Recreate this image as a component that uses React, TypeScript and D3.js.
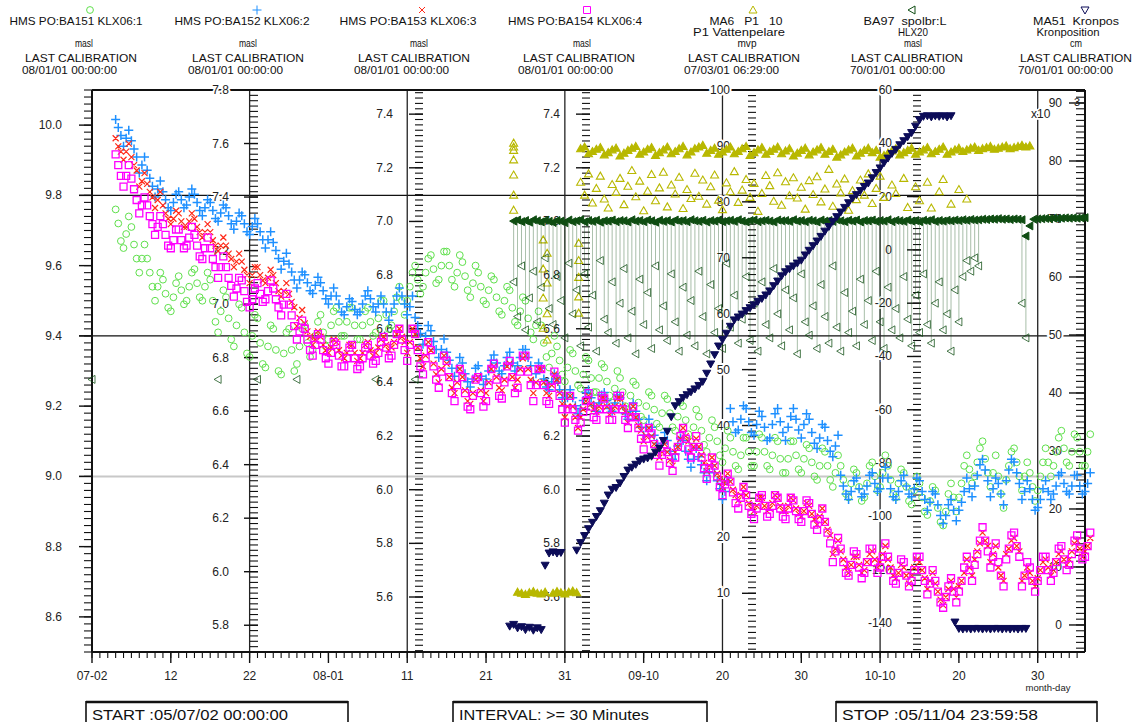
import React from "react";
import * as d3 from "d3";

const W = 1139;
const H = 722;
const HOUR = 3600000;

// ---------- time axis ----------
const timeDomain = ["2005-07-02T00:00:00Z", "2005-11-05T00:00:00Z"];
const xTickDates = ["2005-07-02", "2005-07-12", "2005-07-22", "2005-08-01", "2005-08-11", "2005-08-21", "2005-08-31", "2005-09-10", "2005-09-20", "2005-09-30", "2005-10-10", "2005-10-20", "2005-10-30"];
const xTickLabels = ["07-02", "12", "22", "08-01", "11", "21", "31", "09-10", "20", "30", "10-10", "20", "30"];
const xGridDates = ["2005-07-22", "2005-08-11", "2005-08-31", "2005-09-20", "2005-10-10", "2005-10-30"];

// ---------- legend texts ----------
const seriesNames = ["HMS PO:BA151 KLX06:1", "HMS PO:BA152 KLX06:2", "HMS PO:BA153 KLX06:3", "HMS PO:BA154 KLX06:4", "MA6   P1   10", "BA97  spolbr:L", "MA51  Kronpos"];
const seriesSub = ["", "", "", "", "P1 Vattenpelare", "HLX20", "Kronposition"];
const seriesUnits = ["masl", "masl", "masl", "masl", "mvp", "masl", "cm"];
const calibrationDates = ["08/01/01 00:00:00", "08/01/01 00:00:00", "08/01/01 00:00:00", "08/01/01 00:00:00", "07/03/01 06:29:00", "70/01/01 00:00:00", "70/01/01 00:00:00"];
const seriesColors = ["#5fe04c", "#1e90ff", "#ff2a1a", "#ff00ff", "#b8b800", "#0f4d12", "#0c0c58"];
const seriesMarkers = ["circle", "plus", "cross", "square", "triUp", "triLeft", "triDown"];

// ---------- y axes ----------
const axisDomains = [[8.5, 10.1], [5.7, 7.8], [5.395, 7.49], [5.395, 7.49], [-0.5, 100], [-150.9, 60], [-4.66, 92.24]];
const axisMajorTicks = [
  [8.6, 8.8, 9.0, 9.2, 9.4, 9.6, 9.8, 10.0],
  [5.8, 6.0, 6.2, 6.4, 6.6, 6.8, 7.0, 7.2, 7.4, 7.6, 7.8],
  [5.6, 5.8, 6.0, 6.2, 6.4, 6.6, 6.8, 7.0, 7.2, 7.4],
  [5.6, 5.8, 6.0, 6.2, 6.4, 6.6, 6.8, 7.0, 7.2, 7.4],
  [10, 20, 30, 40, 50, 60, 70, 80, 90, 100],
  [-140, -120, -100, -80, -60, -40, -20, 0, 20, 40, 60],
  [0, 10, 20, 30, 40, 50, 60, 70, 80, 90],
];
const axisMinorSteps = [0.02, 0.02, 0.02, 0.02, 1, 2, 1];
const axisDecimals = [1, 1, 1, 1, 0, 0, 0];
const gridBlackValues = [9.8, 9.4];
const gridGreyValues = [9.0];

// ---------- HMS groundwater levels, 8-hour readings from 2005-07-05 ----------
const hmsStart = "2005-07-05T00:00:00Z";
const ba151 = [
  9.76, 9.72, 9.67, 9.65, 9.69, 9.74, 9.71, 9.66, 9.62, 9.58, 9.62, 9.66, 9.62, 9.58, 9.54, 9.50, 9.54, 9.58, 9.56, 9.52, 9.48, 9.47, 9.51, 9.55, 9.57, 9.53, 9.49, 9.50, 9.54, 9.58,
  9.59, 9.55, 9.51, 9.50, 9.54, 9.58, 9.56, 9.50, 9.44, 9.41, 9.47, 9.53, 9.51, 9.45, 9.39, 9.37, 9.43, 9.49, 9.48, 9.41, 9.35, 9.34, 9.40, 9.46, 9.45, 9.38, 9.32, 9.31, 9.37, 9.43,
  9.42, 9.36, 9.30, 9.29, 9.35, 9.41, 9.42, 9.36, 9.30, 9.32, 9.37, 9.42, 9.43, 9.38, 9.34, 9.36, 9.40, 9.44, 9.46, 9.41, 9.37, 9.39, 9.43, 9.47, 9.48, 9.44, 9.40, 9.40, 9.44, 9.48,
  9.48, 9.43, 9.39, 9.39, 9.43, 9.47, 9.48, 9.44, 9.40, 9.41, 9.45, 9.50, 9.50, 9.46, 9.42, 9.43, 9.47, 9.51, 9.54, 9.50, 9.46, 9.50, 9.54, 9.58, 9.60, 9.56, 9.52, 9.54, 9.58, 9.62,
  9.63, 9.59, 9.55, 9.56, 9.60, 9.64, 9.64, 9.60, 9.56, 9.54, 9.58, 9.63, 9.61, 9.57, 9.53, 9.51, 9.55, 9.60, 9.58, 9.54, 9.50, 9.49, 9.53, 9.57, 9.56, 9.51, 9.47, 9.46, 9.50, 9.54,
  9.53, 9.48, 9.44, 9.43, 9.47, 9.51, 9.50, 9.45, 9.41, 9.39, 9.43, 9.47, 9.43, 9.38, 9.34, 9.31, 9.35, 9.40, 9.37, 9.33, 9.29, 9.27, 9.31, 9.36, 9.35, 9.30, 9.26, 9.25, 9.29, 9.34,
  9.33, 9.28, 9.24, 9.24, 9.28, 9.32, 9.31, 9.27, 9.23, 9.21, 9.25, 9.30, 9.28, 9.24, 9.20, 9.19, 9.23, 9.27, 9.26, 9.21, 9.17, 9.16, 9.20, 9.24, 9.23, 9.19, 9.15, 9.14, 9.18, 9.23,
  9.22, 9.18, 9.14, 9.13, 9.17, 9.21, 9.20, 9.16, 9.12, 9.10, 9.14, 9.19, 9.17, 9.13, 9.09, 9.07, 9.11, 9.16, 9.14, 9.10, 9.06, 9.04, 9.08, 9.13, 9.11, 9.07, 9.03, 9.02, 9.06, 9.11,
  9.11, 9.07, 9.03, 9.03, 9.07, 9.12, 9.11, 9.07, 9.03, 9.02, 9.06, 9.11, 9.10, 9.05, 9.01, 9.01, 9.05, 9.10, 9.10, 9.06, 9.02, 9.01, 9.05, 9.09, 9.08, 9.04, 9.00, 8.99, 9.03, 9.08,
  9.07, 9.03, 8.99, 8.97, 9.01, 9.06, 9.03, 8.99, 8.95, 8.94, 8.98, 9.02, 9.01, 8.97, 8.93, 8.94, 8.98, 9.03, 9.04, 9.00, 8.96, 8.97, 9.01, 9.06, 9.03, 8.99, 8.95, 8.94, 8.98, 9.02,
  9.01, 8.97, 8.93, 8.92, 8.96, 9.00, 8.98, 8.94, 8.90, 8.89, 8.93, 8.97, 8.96, 8.91, 8.87, 8.86, 8.90, 8.95, 8.98, 8.94, 8.90, 8.94, 8.98, 9.03, 9.06, 9.02, 8.98, 9.00, 9.04, 9.08,
  9.10, 9.05, 9.01, 8.97, 9.01, 9.06, 9.00, 8.95, 8.91, 8.99, 9.03, 9.07, 9.08, 9.04, 9.00, 8.96, 9.00, 9.04, 9.01, 8.97, 8.93, 8.96, 9.00, 9.04, 9.08, 9.04, 9.00, 9.03, 9.07, 9.11,
  9.13, 9.08, 9.04, 9.03, 9.07, 9.12, 9.11, 9.07, 9.03, 9.03, 9.07, 9.12,
];
const ba152 = [
  7.69, 7.66, 7.63, 7.59, 7.62, 7.65, 7.61, 7.58, 7.55, 7.49, 7.52, 7.55, 7.50, 7.47, 7.44, 7.40, 7.43, 7.46, 7.42, 7.39, 7.36, 7.35, 7.38, 7.41, 7.42, 7.39, 7.36, 7.37, 7.40, 7.43,
  7.41, 7.38, 7.35, 7.33, 7.36, 7.39, 7.38, 7.35, 7.32, 7.31, 7.34, 7.37, 7.36, 7.33, 7.30, 7.28, 7.31, 7.34, 7.33, 7.30, 7.27, 7.26, 7.29, 7.32, 7.30, 7.27, 7.24, 7.21, 7.24, 7.27,
  7.23, 7.20, 7.17, 7.13, 7.16, 7.19, 7.15, 7.12, 7.09, 7.06, 7.09, 7.12, 7.11, 7.08, 7.05, 7.04, 7.07, 7.10, 7.08, 7.05, 7.02, 7.00, 7.03, 7.06, 7.03, 7.00, 6.97, 6.96, 6.99, 7.02,
  7.01, 6.98, 6.96, 6.97, 7.00, 7.03, 7.05, 7.02, 6.99, 6.97, 7.00, 7.03, 7.00, 6.97, 6.94, 6.97, 7.00, 7.03, 7.06, 7.03, 7.00, 6.96, 6.99, 7.03, 6.95, 6.92, 6.89, 6.85, 6.88, 6.92,
  6.90, 6.86, 6.83, 6.80, 6.83, 6.87, 6.82, 6.79, 6.76, 6.73, 6.76, 6.80, 6.78, 6.74, 6.71, 6.69, 6.72, 6.76, 6.77, 6.73, 6.70, 6.72, 6.75, 6.79, 6.81, 6.78, 6.75, 6.74, 6.77, 6.80,
  6.82, 6.78, 6.75, 6.77, 6.80, 6.83, 6.83, 6.80, 6.77, 6.71, 6.74, 6.78, 6.76, 6.72, 6.69, 6.68, 6.71, 6.74, 6.72, 6.68, 6.65, 6.62, 6.65, 6.68, 6.65, 6.62, 6.59, 6.61, 6.64, 6.67,
  6.68, 6.65, 6.62, 6.60, 6.63, 6.66, 6.67, 6.64, 6.61, 6.60, 6.63, 6.66, 6.65, 6.62, 6.59, 6.57, 6.60, 6.63, 6.60, 6.57, 6.54, 6.51, 6.54, 6.57, 6.54, 6.51, 6.48, 6.45, 6.48, 6.52,
  6.49, 6.45, 6.42, 6.44, 6.47, 6.50, 6.49, 6.45, 6.42, 6.39, 6.42, 6.46, 6.43, 6.40, 6.37, 6.34, 6.37, 6.40, 6.37, 6.34, 6.31, 6.27, 6.30, 6.34, 6.61, 6.56, 6.52, 6.53, 6.57, 6.62,
  6.61, 6.56, 6.52, 6.51, 6.55, 6.60, 6.58, 6.54, 6.49, 6.50, 6.55, 6.59, 6.61, 6.56, 6.52, 6.49, 6.54, 6.58, 6.61, 6.57, 6.53, 6.50, 6.55, 6.59, 6.57, 6.52, 6.48, 6.46, 6.50, 6.55,
  6.54, 6.49, 6.45, 6.43, 6.47, 6.51, 6.36, 6.32, 6.29, 6.27, 6.30, 6.34, 6.35, 6.31, 6.28, 6.29, 6.32, 6.36, 6.37, 6.33, 6.30, 6.31, 6.35, 6.39, 6.35, 6.31, 6.28, 6.27, 6.30, 6.34,
  6.36, 6.32, 6.29, 6.28, 6.31, 6.35, 6.34, 6.30, 6.27, 6.23, 6.26, 6.30, 6.29, 6.25, 6.21, 6.18, 6.21, 6.25, 6.27, 6.23, 6.19, 6.23, 6.26, 6.30, 6.35, 6.31, 6.28, 6.32, 6.36, 6.40,
  6.42, 6.38, 6.34, 6.28, 6.31, 6.35, 6.33, 6.29, 6.25, 6.34, 6.38, 6.42, 6.41, 6.37, 6.33, 6.27, 6.30, 6.34, 6.31, 6.27, 6.23, 6.24, 6.27, 6.31, 6.34, 6.30, 6.27, 6.29, 6.32, 6.36,
  6.37, 6.33, 6.30, 6.29, 6.32, 6.36, 6.36, 6.32, 6.29, 6.30, 6.33, 6.37,
];
const ba153 = [
  7.31, 7.28, 7.26, 7.23, 7.26, 7.29, 7.24, 7.21, 7.19, 7.13, 7.15, 7.18, 7.14, 7.11, 7.09, 7.05, 7.08, 7.11, 7.06, 7.03, 7.01, 6.99, 7.01, 7.04, 7.03, 7.00, 6.98, 6.98, 7.00, 7.03,
  7.01, 6.98, 6.96, 6.94, 6.96, 6.99, 6.96, 6.93, 6.91, 6.89, 6.91, 6.94, 6.91, 6.88, 6.86, 6.83, 6.85, 6.88, 6.85, 6.82, 6.80, 6.77, 6.80, 6.83, 6.83, 6.80, 6.78, 6.77, 6.79, 6.82,
  6.80, 6.77, 6.74, 6.72, 6.74, 6.77, 6.73, 6.70, 6.68, 6.61, 6.64, 6.67, 6.62, 6.59, 6.57, 6.54, 6.56, 6.59, 6.57, 6.54, 6.52, 6.51, 6.53, 6.56, 6.55, 6.52, 6.50, 6.49, 6.51, 6.54,
  6.54, 6.51, 6.48, 6.49, 6.51, 6.54, 6.55, 6.52, 6.50, 6.51, 6.53, 6.56, 6.57, 6.54, 6.52, 6.53, 6.55, 6.58, 6.60, 6.57, 6.55, 6.51, 6.55, 6.60, 6.58, 6.53, 6.49, 6.46, 6.50, 6.55,
  6.52, 6.47, 6.43, 6.40, 6.45, 6.50, 6.47, 6.42, 6.38, 6.36, 6.40, 6.45, 6.42, 6.37, 6.33, 6.32, 6.36, 6.41, 6.42, 6.37, 6.33, 6.36, 6.40, 6.45, 6.46, 6.42, 6.38, 6.37, 6.41, 6.46,
  6.47, 6.42, 6.38, 6.41, 6.45, 6.49, 6.50, 6.45, 6.41, 6.36, 6.40, 6.45, 6.45, 6.40, 6.36, 6.35, 6.39, 6.43, 6.41, 6.36, 6.32, 6.27, 6.31, 6.35, 6.31, 6.27, 6.23, 6.27, 6.30, 6.33,
  6.35, 6.32, 6.30, 6.29, 6.31, 6.34, 6.34, 6.31, 6.28, 6.29, 6.31, 6.34, 6.34, 6.31, 6.29, 6.25, 6.28, 6.31, 6.27, 6.24, 6.22, 6.18, 6.20, 6.23, 6.20, 6.17, 6.15, 6.12, 6.14, 6.17,
  6.14, 6.11, 6.09, 6.14, 6.16, 6.19, 6.23, 6.20, 6.18, 6.14, 6.16, 6.19, 6.16, 6.13, 6.10, 6.07, 6.09, 6.12, 6.09, 6.06, 6.04, 6.01, 6.03, 6.06, 6.03, 6.00, 5.98, 5.96, 5.98, 6.01,
  5.98, 5.95, 5.93, 5.92, 5.94, 5.97, 5.97, 5.94, 5.92, 5.93, 5.95, 5.98, 5.97, 5.94, 5.92, 5.92, 5.94, 5.97, 5.96, 5.93, 5.91, 5.90, 5.92, 5.95, 5.94, 5.91, 5.89, 5.87, 5.90, 5.93,
  5.88, 5.85, 5.83, 5.76, 5.78, 5.81, 5.77, 5.74, 5.71, 5.69, 5.72, 5.75, 5.75, 5.72, 5.69, 5.70, 5.73, 5.76, 5.77, 5.74, 5.71, 5.73, 5.76, 5.79, 5.74, 5.71, 5.68, 5.67, 5.69, 5.72,
  5.71, 5.68, 5.65, 5.68, 5.71, 5.74, 5.73, 5.70, 5.67, 5.63, 5.66, 5.69, 5.65, 5.62, 5.59, 5.57, 5.60, 5.63, 5.66, 5.63, 5.60, 5.64, 5.66, 5.69, 5.74, 5.71, 5.68, 5.74, 5.77, 5.80,
  5.84, 5.81, 5.79, 5.73, 5.76, 5.79, 5.71, 5.68, 5.66, 5.76, 5.78, 5.81, 5.82, 5.79, 5.77, 5.66, 5.68, 5.71, 5.69, 5.66, 5.64, 5.67, 5.70, 5.73, 5.74, 5.71, 5.68, 5.70, 5.73, 5.76,
  5.77, 5.74, 5.72, 5.74, 5.77, 5.80, 5.81, 5.78, 5.75, 5.77, 5.79, 5.82,
];
const ba154 = [
  7.25, 7.21, 7.17, 7.13, 7.17, 7.21, 7.16, 7.12, 7.08, 7.03, 7.06, 7.09, 7.06, 7.02, 6.99, 6.95, 6.98, 7.02, 6.99, 6.95, 6.91, 6.90, 6.93, 6.97, 6.97, 6.93, 6.90, 6.91, 6.94, 6.98,
  6.95, 6.91, 6.87, 6.86, 6.90, 6.94, 6.90, 6.86, 6.83, 6.79, 6.83, 6.87, 6.83, 6.79, 6.76, 6.72, 6.75, 6.79, 6.78, 6.74, 6.70, 6.68, 6.71, 6.75, 6.77, 6.73, 6.70, 6.71, 6.74, 6.78,
  6.75, 6.71, 6.68, 6.65, 6.69, 6.73, 6.69, 6.65, 6.61, 6.56, 6.59, 6.63, 6.60, 6.56, 6.52, 6.50, 6.54, 6.58, 6.56, 6.52, 6.49, 6.47, 6.51, 6.55, 6.54, 6.50, 6.46, 6.46, 6.49, 6.53,
  6.54, 6.49, 6.45, 6.46, 6.49, 6.53, 6.54, 6.50, 6.47, 6.48, 6.51, 6.55, 6.57, 6.53, 6.49, 6.50, 6.54, 6.58, 6.60, 6.56, 6.52, 6.48, 6.54, 6.60, 6.58, 6.52, 6.46, 6.43, 6.49, 6.55,
  6.52, 6.46, 6.41, 6.38, 6.44, 6.50, 6.48, 6.42, 6.36, 6.33, 6.39, 6.45, 6.42, 6.36, 6.31, 6.30, 6.35, 6.41, 6.42, 6.36, 6.31, 6.33, 6.39, 6.45, 6.47, 6.41, 6.35, 6.34, 6.40, 6.46,
  6.48, 6.42, 6.36, 6.38, 6.44, 6.50, 6.50, 6.44, 6.39, 6.33, 6.39, 6.45, 6.45, 6.39, 6.33, 6.32, 6.38, 6.44, 6.41, 6.35, 6.30, 6.25, 6.30, 6.35, 6.30, 6.26, 6.22, 6.25, 6.29, 6.33,
  6.36, 6.31, 6.27, 6.26, 6.30, 6.35, 6.34, 6.30, 6.26, 6.26, 6.30, 6.35, 6.35, 6.30, 6.26, 6.23, 6.27, 6.31, 6.27, 6.23, 6.19, 6.15, 6.19, 6.23, 6.21, 6.17, 6.13, 6.09, 6.13, 6.17,
  6.14, 6.10, 6.07, 6.12, 6.16, 6.20, 6.23, 6.19, 6.15, 6.12, 6.16, 6.20, 6.16, 6.12, 6.08, 6.04, 6.08, 6.12, 6.09, 6.05, 6.01, 5.98, 6.02, 6.06, 6.03, 5.99, 5.95, 5.93, 5.97, 6.01,
  5.98, 5.94, 5.91, 5.89, 5.93, 5.97, 5.98, 5.94, 5.90, 5.91, 5.94, 5.98, 5.97, 5.93, 5.90, 5.89, 5.93, 5.97, 5.96, 5.92, 5.89, 5.88, 5.92, 5.96, 5.95, 5.91, 5.87, 5.85, 5.89, 5.93,
  5.88, 5.84, 5.80, 5.73, 5.77, 5.82, 5.78, 5.73, 5.69, 5.68, 5.72, 5.77, 5.76, 5.71, 5.67, 5.69, 5.73, 5.78, 5.78, 5.73, 5.69, 5.71, 5.75, 5.80, 5.75, 5.70, 5.66, 5.65, 5.69, 5.74,
  5.73, 5.68, 5.64, 5.66, 5.70, 5.75, 5.75, 5.70, 5.66, 5.61, 5.65, 5.70, 5.66, 5.62, 5.58, 5.56, 5.60, 5.64, 5.67, 5.62, 5.58, 5.62, 5.66, 5.71, 5.75, 5.70, 5.66, 5.72, 5.76, 5.81,
  5.86, 5.81, 5.77, 5.71, 5.75, 5.80, 5.73, 5.68, 5.64, 5.74, 5.78, 5.83, 5.84, 5.79, 5.75, 5.64, 5.68, 5.73, 5.71, 5.66, 5.62, 5.66, 5.70, 5.75, 5.75, 5.70, 5.66, 5.69, 5.73, 5.78,
  5.79, 5.74, 5.70, 5.72, 5.76, 5.81, 5.83, 5.78, 5.74, 5.75, 5.79, 5.84,
];

// ---------- MA6 (mvp), 12-hour readings ----------
const ma6Starts = ["2005-08-25T00:00:00Z", "2005-08-29T12:00:00Z", "2005-09-02T00:00:00Z", "2005-09-02T00:00:00Z"];
const ma6LowA = [10.2, 10.0, 9.8, 10.1, 10.3, 10.0, 9.9, 10.2];
const ma6LowB = [10.0, 10.3, 10.1, 9.9, 10.2, 10.4, 10.1];
const ma6Upper = [
  89.5, 89.8, 88.6, 89.0, 89.4, 89.7, 88.4, 88.8, 89.3, 89.6,
  88.2, 88.7, 89.2, 89.6, 89.9, 88.5, 88.9, 89.4, 89.7, 88.3,
  88.8, 89.3, 89.8, 88.6, 89.0, 89.5, 89.9, 88.4, 88.9, 89.5,
  89.8, 90.1, 88.7, 89.2, 89.6, 88.5, 88.9, 89.4, 89.8, 88.6,
  89.0, 89.5, 89.9, 88.3, 88.8, 89.3, 89.7, 88.5, 89.0, 89.4,
  89.8, 88.6, 89.1, 89.5, 88.2, 88.7, 89.2, 89.6, 88.4, 88.9,
  89.3, 89.7, 88.5, 89.0, 89.4, 88.0, 88.4, 88.9, 89.3, 89.6,
  88.2, 88.7, 89.2, 89.6, 88.8, 89.2, 88.0, 88.3, 88.7, 89.1,
  89.5, 88.4, 88.8, 89.2, 89.6, 88.5, 88.9, 89.3, 89.7, 88.6,
  89.0, 89.4, 89.8, 88.5, 88.9, 89.3, 89.6, 89.0, 89.3, 89.6,
  89.8, 89.2, 89.5, 89.7, 89.9, 89.4, 89.6, 89.8, 90.0, 89.5,
  89.7, 89.9, 90.1, 89.8, 90.0,
];
const ma6Scatter = [
  83.5, 81.2, 85.0, 79.8, 82.4, 84.6, 80.5, 78.9, 83.1, 81.7,
  84.2, 79.5, 82.8, 85.6, 80.9, 83.7, 78.4, 81.9, 84.9, 80.2,
  82.5, 85.3, 79.1, 83.0, 81.4, 84.4, 78.8, 82.2, 80.6, 85.1,
  81.0, 83.9, 79.6, 82.7, 84.8, 80.3, 78.6, 83.4, 81.8, 85.4,
  79.9, 82.1, 84.0, 80.8, 83.3, 78.3, 81.5, 84.7, 82.9, 80.1,
  85.2, 79.4, 83.6, 81.1, 84.3, 80.7, 82.6, 78.7, 83.8, 81.3,
  84.5, 80.0, 82.3, 85.8, 79.2, 83.2, 81.6, 84.1, 78.5, 82.0,
  80.4, 83.9, 81.2, 85.0, 79.7, 82.4, 84.6, 80.8, null, 83.0,
  81.5, null, 84.2, 79.0, null, 82.7, 80.2, null, 83.5, 78.9,
  null, 81.8, 84.0, null, 79.6, null, 82.2, null, 80.5, null,
];
const ma6TransTimes = [
  "2005-08-24T12:00:00Z", "2005-08-24T12:00:00Z", "2005-08-24T12:00:00Z", "2005-08-24T12:00:00Z", "2005-08-24T12:00:00Z", "2005-08-24T12:00:00Z", "2005-08-24T12:00:00Z",
  "2005-08-28T06:00:00Z", "2005-08-28T18:00:00Z", "2005-08-28T06:00:00Z", "2005-08-28T18:00:00Z", "2005-08-28T06:00:00Z", "2005-08-28T18:00:00Z", "2005-08-28T06:00:00Z", "2005-08-28T18:00:00Z",
  "2005-09-01T18:00:00Z", "2005-09-01T18:00:00Z", "2005-09-01T18:00:00Z", "2005-09-01T18:00:00Z", "2005-09-01T18:00:00Z",
];
const ma6TransValues = [90.5, 89.8, 89.2, 87.5, 84.8, 81.2, 78.5, 73.2, 70.8, 68.0, 65.5, 62.8, 60.0, 57.4, 55.3, 72.6, 69.5, 66.5, 63.0, 60.1];

// ---------- BA97 (masl), 12-hour readings from 2005-08-24 12:00 ----------
const ba97Start = "2005-08-24T12:00:00Z";
const ba97Level = [
  10.8, 11.2, 10.6, 11.0, 10.4, 11.3, 10.9, 10.5, 11.1, 10.7,
  10.3, 11.0, 10.8, 10.2, 11.2, 10.6, 10.9, 11.3, 10.5, 11.0,
  10.7, 11.1, 10.4, 10.9, 10.8, 11.2, 10.6, 11.0, 10.9, 10.5,
  11.3, 10.8, 11.0, 10.6, 11.2, 10.9, 10.4, 11.1, 10.7, 11.0,
  10.5, 11.2, 10.8, 11.0, 10.6, 11.3, 10.9, 10.7, 11.1, 10.5,
  11.0, 10.8, 11.2, 10.6, 10.9, 11.1, 10.7, 11.3, 10.8, 10.5,
  11.0, 11.2, 10.6, 10.9, 11.1, 10.8, 10.5, 11.2, 10.9, 11.0,
  10.7, 11.3, 10.8, 11.0, 10.6, 11.1, 10.9, 10.5, 11.2, 10.8,
  11.0, 10.7, 11.3, 10.9, 10.6, 11.1, 10.8, 11.2, 10.5, 11.0,
  10.9, 11.2, 10.7, 11.0, 10.8, 11.3, 10.6, 11.1, 10.9, 10.7,
  11.2, 10.8, 11.0, 10.6, 11.1, 10.9, 11.3, 10.7, 11.0, 10.8,
  11.1, 10.9, 11.2, 11.0, 11.3, 11.1, 11.4, 11.2, 11.3, 11.5,
  11.4, 11.6, 11.5, 11.7, 11.5, 11.6, 11.4, 11.6, 11.5, 11.3,
  5.2, 9.0, 11.5, 11.6, 11.7, 11.8, 11.7, 11.9, 11.8, 11.9,
  12.0, 11.9, 12.0, 11.9, 12.0, 12.1,
];
const ba97Min = [
  -12, -25, -6, -30, -18, -8, -27, -14, -3, -22,
  -28, -10, -19, -33, -5, -24, -15, -36, -9, -29,
  -17, -38, -4, -26, -31, -12, -35, -20, -7, -33,
  -23, -39, -11, -28, -16, -37, -6, -30, -21, -34,
  -9, -27, -38, -14, -32, -19, -36, -8, -25, -39,
  -13, -31, -22, -37, -5, -29, -17, -35, -26, -10,
  -34, -20, -38, -12, -28, -33, -7, -24, -36, -15,
  -30, -18, -39, -9, -27, -32, -21, -37, -13, -25,
  -35, -6, -29, -38, -16, -31, -23, -36, -11, -28,
  -19, -34, -8, -27, -37, -14, -30, -22, -33, -10,
  -26, -36, -17, -31, -9, -28, -35, -20, -12, -30,
  -24, -38, -15, -27, -10, -4, -8, -3, -6, null,
];
const ba97LateTimes = ["2005-10-28T00:00:00Z", "2005-10-28T12:00:00Z"];
const ba97LateMin = [-20, -33];
const ba97EarlyTimes = ["2005-07-02T00:00:00Z", "2005-07-18T00:00:00Z", "2005-07-23T00:00:00Z", "2005-07-28T00:00:00Z", "2005-08-07T00:00:00Z", "2005-08-12T00:00:00Z"];
const ba97Early = [-48.6, -48.6, -48.6, -48.6, -48.6, -48.6];

// ---------- MA51 Kronposition (x10^3 cm), 12-hour readings ----------
const ma51Starts = ["2005-08-24T00:00:00Z", "2005-08-28T12:00:00Z", "2005-09-01T12:00:00Z", "2005-10-19T12:00:00Z"];
const ma51A = [-0.2, 0.1, -0.5, -0.3, -0.8, -0.4, -0.9, -0.5, -0.8];
const ma51B = [10.3, 12.4, 12.6, 12.4, 12.5];
const ma51C = [
  12.9, 14.2, 15.4, 16.6, 17.7, 18.7, 19.7, 21.0, 22.4, 23.4,
  23.7, 24.5, 25.6, 26.7, 27.2, 27.7, 28.3, 28.6, 28.8, 29.1,
  29.8, 30.5, 31.8, 33.4, 35.9, 37.8, 38.5, 39.2, 39.7, 40.2,
  40.7, 41.3, 42.0, 43.4, 45.0, 46.6, 48.1, 49.2, 50.3, 51.5,
  52.6, 53.1, 53.6, 54.2, 54.7, 55.2, 55.8, 56.3, 56.9, 57.6,
  58.5, 59.3, 60.2, 60.9, 61.4, 61.9, 62.4, 62.9, 63.8, 64.6,
  65.4, 66.2, 67.0, 67.9, 68.7, 69.6, 70.4, 71.2, 72.0, 72.8,
  73.6, 74.2, 74.9, 75.6, 76.2, 77.1, 78.0, 78.8, 79.7, 80.5,
  81.3, 82.0, 82.8, 83.5, 84.2, 84.9, 86.0, 87.1, 87.7, 87.8,
  87.6, 87.8, 87.7, 87.8, 87.6, 87.8,
];
const ma51D = [0.5, -0.6, -0.7, -0.6, -0.7, -0.6, -0.6, -0.7, -0.6, -0.7, -0.6, -0.6, -0.7, -0.6, -0.7, -0.6, -0.7, -0.6, -0.6];

// ---------- footer ----------
const footerTexts = ["START :05/07/02 00:00:00", "INTERVAL: >= 30 Minutes", "STOP :05/11/04 23:59:58"];

// ---------- helpers ----------
type Pt = [number, number];
const markerPath: Record<string, (x: number, y: number) => string> = {
  circle: (x, y) => `M${x - 3.4},${y}a3.4,3.4 0 1,0 6.8,0a3.4,3.4 0 1,0 -6.8,0`,
  plus: (x, y) => `M${x - 4.5},${y}h9M${x},${y - 4.5}v9`,
  cross: (x, y) => `M${x - 3},${y - 3}l6,6M${x - 3},${y + 3}l6,-6`,
  square: (x, y) => `M${x - 3.5},${y - 3.5}h7v7h-7z`,
  triUp: (x, y) => `M${x},${y - 4}l4,7h-8z`,
  triLeft: (x, y) => `M${x - 4},${y}l7,-4v8z`,
  triDown: (x, y) => `M${x - 4},${y - 3}h8l-4,7z`,
};

export default function App() {
  const x = d3.scaleUtc().domain(timeDomain.map((s) => new Date(s))).range([92, 1085]);
  const ys = axisDomains.map((d) => d3.scaleLinear().domain(d).range([652, 90]));
  const top = 90, bottom = 652, left = 92, right = 1085;

  const regular = (start: string, stepH: number, values: (number | null)[], y: d3.ScaleLinear<number, number>): Pt[] => {
    const t0 = Date.parse(start);
    const out: Pt[] = [];
    values.forEach((v, i) => {
      if (v == null) return;
      out.push([x(new Date(t0 + i * stepH * HOUR)), y(v)]);
    });
    return out;
  };
  const listed = (times: string[], values: number[], y: d3.ScaleLinear<number, number>): Pt[] =>
    times.map((t, i) => [x(new Date(t)), y(values[i])] as Pt);
  const pathOf = (pts: Pt[], kind: string) => pts.map(([px, py]) => markerPath[kind](px, py)).join("");

  const s1 = regular(hmsStart, 8, ba151, ys[0]);
  const s2 = regular(hmsStart, 8, ba152, ys[1]);
  const s3 = regular(hmsStart, 8, ba153, ys[2]);
  const s4 = regular(hmsStart, 8, ba154, ys[3]);
  const s5Solid = [
    ...regular(ma6Starts[0], 12, ma6LowA, ys[4]),
    ...regular(ma6Starts[1], 12, ma6LowB, ys[4]),
    ...regular(ma6Starts[2], 12, ma6Upper, ys[4]),
  ];
  const s5Open = [
    ...regular(ma6Starts[3], 12, ma6Scatter, ys[4]),
    ...listed(ma6TransTimes, ma6TransValues, ys[4]),
  ];
  const s6Level = regular(ba97Start, 12, ba97Level, ys[5]);
  const s6Min = regular(ba97Start, 12, ba97Min, ys[5]);
  const t97 = Date.parse(ba97Start);
  const spikes: [number, number, number][] = [];
  ba97Min.forEach((v, i) => {
    if (v == null) return;
    const lv = ba97Level[i] ?? 11;
    spikes.push([x(new Date(t97 + i * 12 * HOUR)), ys[5](lv), ys[5](v)]);
  });
  ba97LateTimes.forEach((t, i) => {
    const idx = Math.round((Date.parse(t) - t97) / (12 * HOUR));
    const lv = ba97Level[idx] ?? 11;
    spikes.push([x(new Date(t)), ys[5](lv), ys[5](ba97LateMin[i])]);
  });
  const s6Late = listed(ba97LateTimes, ba97LateMin, ys[5]);
  const s6Early = listed(ba97EarlyTimes, ba97Early, ys[5]);
  const s7 = [
    ...regular(ma51Starts[0], 12, ma51A, ys[6]),
    ...regular(ma51Starts[1], 12, ma51B, ys[6]),
    ...regular(ma51Starts[2], 12, ma51C, ys[6]),
    ...regular(ma51Starts[3], 12, ma51D, ys[6]),
  ];

  const ladders = [
    { minor: [84, 92], major: [79, 92], labelX: 62 },
    { minor: [250, 258], major: [244, 258], labelX: 229 },
    { minor: [415, 423], major: [409, 423], labelX: 393 },
    { minor: [582, 590], major: [576, 590], labelX: 560 },
    { minor: [748, 756], major: [742, 756], labelX: 730 },
    { minor: [913, 921], major: [907, 921], labelX: 892 },
    { minor: [1076, 1085], major: [1069, 1085], labelX: 1062 },
  ];

  const font = "'Liberation Sans', Arial, Helvetica, sans-serif";

  const axisEls: React.ReactNode[] = [];
  const labelEls: React.ReactNode[] = [];
  ladders.forEach((ld, ai) => {
    const y = ys[ai];
    const [lo, hi] = axisDomains[ai];
    const step = axisMinorSteps[ai];
    const minors = d3.range(Math.ceil(lo / step - 1e-6), Math.floor(hi / step + 1e-6) + 1).map((k) => k * step);
    minors.forEach((v, i) => {
      const py = y(v);
      if (py < top || py > bottom) return;
      axisEls.push(<line key={`mi${ai}-${i}`} x1={ld.minor[0]} x2={ld.minor[1]} y1={py} y2={py} stroke="#111" strokeWidth={1.1} />);
    });
    axisMajorTicks[ai].forEach((v, i) => {
      const py = y(v);
      axisEls.push(<line key={`ma${ai}-${i}`} x1={ld.major[0]} x2={ld.major[1]} y1={py} y2={py} stroke="#111" strokeWidth={1.4} />);
      labelEls.push(
        <text key={`lb${ai}-${i}`} x={ld.labelX} y={py} textAnchor="end" dominantBaseline="central" fontSize={12}
          fill="#222" stroke="#fff" strokeWidth={4} paintOrder="stroke" fontFamily={font}>
          {v.toFixed(axisDecimals[ai])}
        </text>
      );
    });
  });

  const dayTicks = d3.utcDay.range(new Date(timeDomain[0]), new Date(timeDomain[1]));

  const titleX = [76, 242, 408, 575, 746, 905, 1076];
  const titleW = [133, 135, 137, 134, 73, 83, 86];
  const subX = [0, 0, 0, 0, 739, 913, 1068];
  const subW = [0, 0, 0, 0, 92, 30, 63];
  const unitX = [84, 248, 419, 582, 747, 913, 1076];
  const unitW = [18, 18, 18, 18, 19, 18, 12];
  const lastX = [25, 192, 358, 523, 688, 851, 1020];
  const dateX = [22, 188, 354, 518, 684, 850, 1018];
  const markX = [90, 257, 422, 587, 753, 912, 1085];

  const footerBoxes = [[86, 348], [453, 707], [836, 1097]];

  return (
    <div style={{ position: "absolute", left: 0, top: 0, width: W, height: H, background: "#fff" }}>
      <svg width={W} height={H} viewBox={`0 0 ${W} ${H}`} style={{ display: "block" }}>
        <rect x={0} y={0} width={W} height={H} fill="#fff" />

        {seriesNames.map((name, i) => (
          <g key={`hd${i}`} fontFamily={font} fill="#111">
            <path d={markerPath[seriesMarkers[i]](markX[i], 10)} fill="none" stroke={seriesColors[i]} strokeWidth={1} />
            <text x={titleX[i]} y={25} textAnchor="middle" fontSize={11.5} textLength={titleW[i]} lengthAdjust="spacingAndGlyphs" style={{ whiteSpace: "pre" }}>{name}</text>
            {seriesSub[i] && (
              <text x={subX[i]} y={35.5} textAnchor="middle" fontSize={11} textLength={subW[i]} lengthAdjust="spacingAndGlyphs">{seriesSub[i]}</text>
            )}
            <text x={unitX[i]} y={46.5} textAnchor="middle" fontSize={10} textLength={unitW[i]} lengthAdjust="spacingAndGlyphs">{seriesUnits[i]}</text>
            <text x={lastX[i]} y={62} fontSize={11.5} textLength={112} lengthAdjust="spacingAndGlyphs">LAST CALIBRATION</text>
            <text x={dateX[i]} y={73.5} fontSize={10} textLength={95} lengthAdjust="spacingAndGlyphs">{calibrationDates[i]}</text>
          </g>
        ))}

        {gridGreyValues.map((v, i) => (
          <line key={`gg${i}`} x1={79} x2={right} y1={ys[0](v)} y2={ys[0](v)} stroke="#c8c8c8" strokeWidth={2} />
        ))}
        {gridBlackValues.map((v, i) => (
          <line key={`gb${i}`} x1={79} x2={right} y1={ys[0](v)} y2={ys[0](v)} stroke="#111" strokeWidth={1.3} />
        ))}
        {xGridDates.map((d, i) => (
          <line key={`gx${i}`} x1={x(new Date(d))} x2={x(new Date(d))} y1={top} y2={bottom} stroke="#222" strokeWidth={1.3} />
        ))}

        <line x1={left} x2={right} y1={top} y2={top} stroke="#111" strokeWidth={2} />
        <line x1={left} x2={left} y1={top} y2={bottom} stroke="#111" strokeWidth={2} />
        <line x1={right} x2={right} y1={top} y2={bottom} stroke="#111" strokeWidth={2} />
        <line x1={left} x2={right} y1={bottom} y2={bottom} stroke="#111" strokeWidth={2} />

        {axisEls}
        {labelEls}

        {dayTicks.map((d, i) => (
          <line key={`xd${i}`} x1={x(d)} x2={x(d)} y1={bottom} y2={bottom + 6} stroke="#111" strokeWidth={1.1} />
        ))}
        {xTickDates.map((d, i) => (
          <g key={`xt${i}`}>
            <line x1={x(new Date(d))} x2={x(new Date(d))} y1={bottom} y2={bottom + 11} stroke="#111" strokeWidth={1.4} />
            <text x={x(new Date(d))} y={680} textAnchor="middle" fontSize={12} fill="#222" fontFamily={font}>{xTickLabels[i]}</text>
          </g>
        ))}
        <text x={1048} y={691} textAnchor="middle" fontSize={9.5} fill="#222" fontFamily={font}>month-day</text>

        <text x={1031} y={118} fontSize={12} fill="#222" fontFamily={font} stroke="#fff" strokeWidth={3} paintOrder="stroke">x10</text>
        <text x={1074} y={106} fontSize={11} fill="#222" fontFamily={font}>3</text>

        {/* data */}
        <path d={pathOf(s1, "circle")} fill="none" stroke={seriesColors[0]} strokeWidth={1} />
        <path d={pathOf(s2, "plus")} fill="none" stroke={seriesColors[1]} strokeWidth={1.5} />
        <path d={pathOf(s3, "cross")} fill="none" stroke={seriesColors[2]} strokeWidth={1.2} />
        <path d={pathOf(s4, "square")} fill="none" stroke={seriesColors[3]} strokeWidth={1.3} />
        <path d={pathOf(s5Open, "triUp")} fill="none" stroke={seriesColors[4]} strokeWidth={1.1} />
        <path d={pathOf(s5Solid, "triUp")} fill={seriesColors[4]} stroke={seriesColors[4]} strokeWidth={1.1} />
        {spikes.map(([sx, y1, y2], i) => (
          <line key={`sp${i}`} x1={sx} x2={sx} y1={y1} y2={y2} stroke={seriesColors[5]} strokeWidth={0.8} opacity={0.45} />
        ))}
        <path d={pathOf([...s6Min, ...s6Late, ...s6Early], "triLeft")} fill="none" stroke={seriesColors[5]} strokeWidth={0.9} opacity={0.85} />
        <path d={pathOf(s6Level, "triLeft")} fill={seriesColors[5]} stroke={seriesColors[5]} strokeWidth={1} />
        <path d={pathOf(s7, "triDown")} fill={seriesColors[6]} stroke={seriesColors[6]} strokeWidth={1} />

        {footerBoxes.map(([x1, x2], i) => (
          <g key={`fb${i}`}>
            <line x1={x1} x2={x2} y1={702} y2={702} stroke="#111" strokeWidth={2.5} />
            <line x1={x1} x2={x1} y1={701} y2={H} stroke="#111" strokeWidth={1.6} />
            <line x1={x2} x2={x2} y1={701} y2={H} stroke="#111" strokeWidth={1.6} />
            <text x={x1 + 6} y={720} fontSize={15} fill="#111" fontFamily={font} textLength={i === 1 ? 190 : 196} lengthAdjust="spacingAndGlyphs">{footerTexts[i]}</text>
          </g>
        ))}
      </svg>
    </div>
  );
}
